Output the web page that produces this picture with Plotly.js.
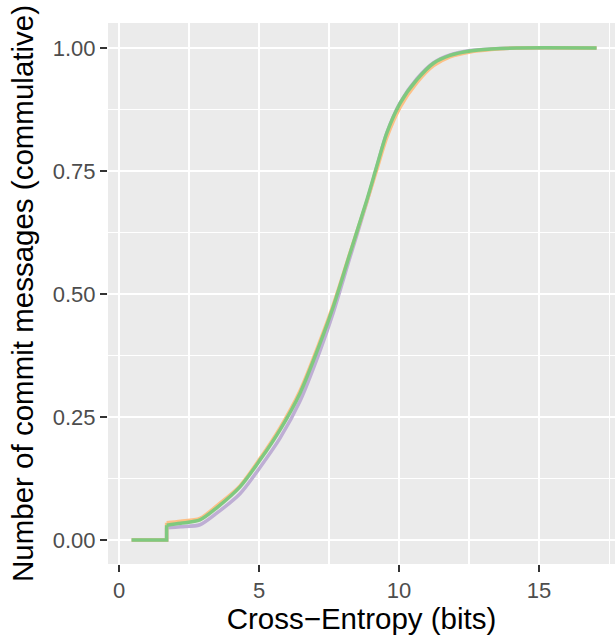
<!DOCTYPE html>
<html>
<head>
<meta charset="utf-8">
<script src="https://cdn.plot.ly/plotly-3.0.1.min.js"></script>
<style>html,body{margin:0;padding:0;background:#fff;}#chart{width:615px;height:635px;}</style>
</head>
<body>
<div id="chart"></div>
<script>
// Cross-entropy (bits) and cumulative share of commit messages
const xGreen  = [0.45, 1.70, 1.70, 2.20, 2.89, 3.50, 4.32, 5.04, 5.75, 6.46, 7.18, 7.65, 8.25, 8.85, 9.20, 9.56, 10.04, 10.63, 11.23, 11.82, 12.54, 13.30, 14.20, 17.05];
const yGreen  = [0, 0, 0.030, 0.034, 0.041, 0.066, 0.108, 0.163, 0.224, 0.298, 0.400, 0.474, 0.583, 0.691, 0.759, 0.827, 0.888, 0.935, 0.969, 0.985, 0.994, 0.998, 1.000, 1.000];
const xPurple = [0.45, 1.70, 1.70, 2.20, 2.89, 3.50, 4.32, 5.04, 5.75, 6.46, 7.18, 7.65, 8.25, 8.85, 9.20, 9.56, 10.04, 10.63, 11.23, 11.82, 12.54, 13.30, 14.20, 17.05];
const yPurple = [0, 0, 0.025, 0.027, 0.031, 0.055, 0.094, 0.148, 0.207, 0.282, 0.385, 0.462, 0.575, 0.687, 0.757, 0.827, 0.889, 0.937, 0.970, 0.986, 0.995, 0.998, 1.000, 1.000];
const xOrange = [0.45, 1.70, 1.70, 2.20, 2.89, 3.50, 4.32, 5.04, 5.75, 6.46, 7.18, 7.65, 8.25, 8.85, 9.20, 9.56, 10.04, 10.63, 11.23, 11.82, 12.54, 13.30, 14.20, 17.05];
const yOrange = [0, 0, 0.035, 0.038, 0.044, 0.070, 0.110, 0.166, 0.228, 0.303, 0.405, 0.478, 0.584, 0.688, 0.752, 0.818, 0.880, 0.929, 0.964, 0.982, 0.992, 0.997, 1.000, 1.000];

const xTicks = [0, 5, 10, 15];
const xTickText = ['0', '5', '10', '15'];
const yTicks = [0, 0.25, 0.5, 0.75, 1];
const yTickText = ['0.00', '0.25', '0.50', '0.75', '1.00'];

const font = '"Liberation Sans", Arial, Helvetica, sans-serif';

// the step at the start is drawn straight, the rest of the ECDF as a smooth curve
function series(x, y, color) {
  return [
    {x: x.slice(0, 3), y: y.slice(0, 3), type: 'scatter', mode: 'lines',
     line: {color: color, width: 3.5, shape: 'linear'}, showlegend: false, hoverinfo: 'skip'},
    {x: x.slice(2), y: y.slice(2), type: 'scatter', mode: 'lines',
     line: {color: color, width: 3.5, shape: 'spline', smoothing: 0.8}, showlegend: false, hoverinfo: 'skip'}
  ];
}

const data = [].concat(
  series(xPurple, yPurple, '#BEAED4'),
  series(xOrange, yOrange, '#FDC086'),
  series(xGreen, yGreen, '#7FC97F')
);

const layout = {
  width: 615, height: 635,
  margin: {l: 108, r: 0, t: 23, b: 71, pad: 0},
  paper_bgcolor: '#FFFFFF',
  plot_bgcolor: '#EBEBEB',
  showlegend: false,
  font: {family: font},
  xaxis: {
    range: [-0.393, 17.71],
    tickmode: 'array', tickvals: xTicks, ticktext: xTickText,
    ticks: 'outside', ticklen: 7, tickwidth: 2, tickcolor: '#333333',
    tickfont: {family: font, size: 22, color: '#4D4D4D'},
    showgrid: true, gridcolor: '#FFFFFF', gridwidth: 2,
    minor: {dtick: 2.5, tick0: 0, showgrid: true, gridcolor: '#FFFFFF', gridwidth: 1.2, ticks: ''},
    zeroline: false, showline: false,
    title: {text: 'Cross\u2212Entropy (bits)', font: {family: font, size: 29.5, color: '#000000'}, standoff: 5}
  },
  yaxis: {
    range: [-0.0488, 1.0508],
    tickmode: 'array', tickvals: yTicks, ticktext: yTickText,
    ticks: 'outside', ticklen: 7, tickwidth: 2, tickcolor: '#333333',
    tickfont: {family: font, size: 22, color: '#4D4D4D'},
    showgrid: true, gridcolor: '#FFFFFF', gridwidth: 2,
    minor: {dtick: 0.125, tick0: 0, showgrid: true, gridcolor: '#FFFFFF', gridwidth: 1.2, ticks: ''},
    zeroline: false, showline: false,
    title: {text: 'Number of commit messages (commulative)', font: {family: font, size: 29.5, color: '#000000'}, standoff: 10}
  }
};

Plotly.newPlot('chart', data, layout, {staticPlot: true, displayModeBar: false});
</script>
</body>
</html>
